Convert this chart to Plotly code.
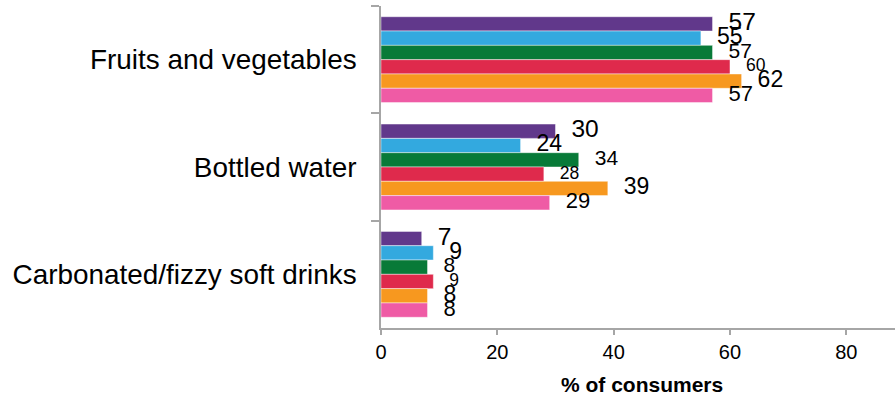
import plotly.graph_objects as go

# Product categories (top to bottom) and consumer shares per series
categories = ["Fruits and vegetables", "Bottled water", "Carbonated/fizzy soft drinks"]
series_names = ["Series 1", "Series 2", "Series 3", "Series 4", "Series 5", "Series 6"]
values = [
    [57, 30, 7],
    [55, 24, 9],
    [57, 34, 8],
    [60, 28, 9],
    [62, 39, 8],
    [57, 29, 8],
]
colors = ["#61388B", "#33A9DF", "#087A38", "#DF2A4C", "#F7981F", "#EF5BA5"]
label_sizes = [24.5, 23, 21, 17.5, 23, 22]

FONT = "Arial, 'Liberation Sans', Helvetica, sans-serif"
AXIS_GREY = "#a6a6a6"

fig = go.Figure()

for name, vals, col in zip(series_names, values, colors):
    fig.add_trace(go.Bar(
        name=name,
        y=categories,
        x=vals,
        orientation="h",
        marker=dict(color=col, line=dict(color="rgba(255,255,255,0.45)", width=1)),
        hoverinfo="skip",
        showlegend=False,
    ))

# value labels, grouped the same way as the bars
for name, vals, size in zip(series_names, values, label_sizes):
    fig.add_trace(go.Scatter(
        name=name + " label",
        y=categories,
        x=vals,
        orientation="h",
        mode="markers+text",
        text=[str(v) for v in vals],
        textposition="middle right",
        textfont=dict(family=FONT, size=size, color="#000000"),
        marker=dict(size=24, color="rgba(0,0,0,0)"),
        cliponaxis=False,
        hoverinfo="skip",
        showlegend=False,
    ))

fig.update_layout(
    width=895,
    height=396,
    margin=dict(l=380.7, r=0, t=6, b=67.5),
    barmode="group",
    bargap=0.2,
    bargroupgap=0,
    scattermode="group",
    scattergap=0.2,
    plot_bgcolor="#ffffff",
    paper_bgcolor="#ffffff",
    font=dict(family=FONT, color="#000000"),
    xaxis=dict(
        range=[0, 88.37],
        tickvals=[0, 20, 40, 60, 80],
        showgrid=False,
        zeroline=False,
        showline=True,
        linecolor=AXIS_GREY,
        linewidth=1.5,
        ticks="outside",
        ticklen=5,
        tickwidth=1.5,
        tickcolor=AXIS_GREY,
        tickfont=dict(family=FONT, size=20, color="#000000"),
    ),
    yaxis=dict(
        autorange="reversed",
        showgrid=False,
        zeroline=False,
        showline=True,
        linecolor=AXIS_GREY,
        linewidth=1.5,
        ticks="outside",
        tickson="boundaries",
        ticklen=8,
        tickwidth=1.5,
        tickcolor=AXIS_GREY,
        ticklabelstandoff=17,
        tickfont=dict(family=FONT, size=27.9, color="#000000"),
    ),
    annotations=[
        dict(
            text="<b>% of consumers</b>",
            xref="paper", yref="paper",
            x=0.5, y=0,
            xshift=4, yshift=-56.5,
            xanchor="center", yanchor="middle",
            showarrow=False,
            font=dict(family=FONT, size=21, color="#000000"),
        )
    ],
)

fig.write_html("out.html")
